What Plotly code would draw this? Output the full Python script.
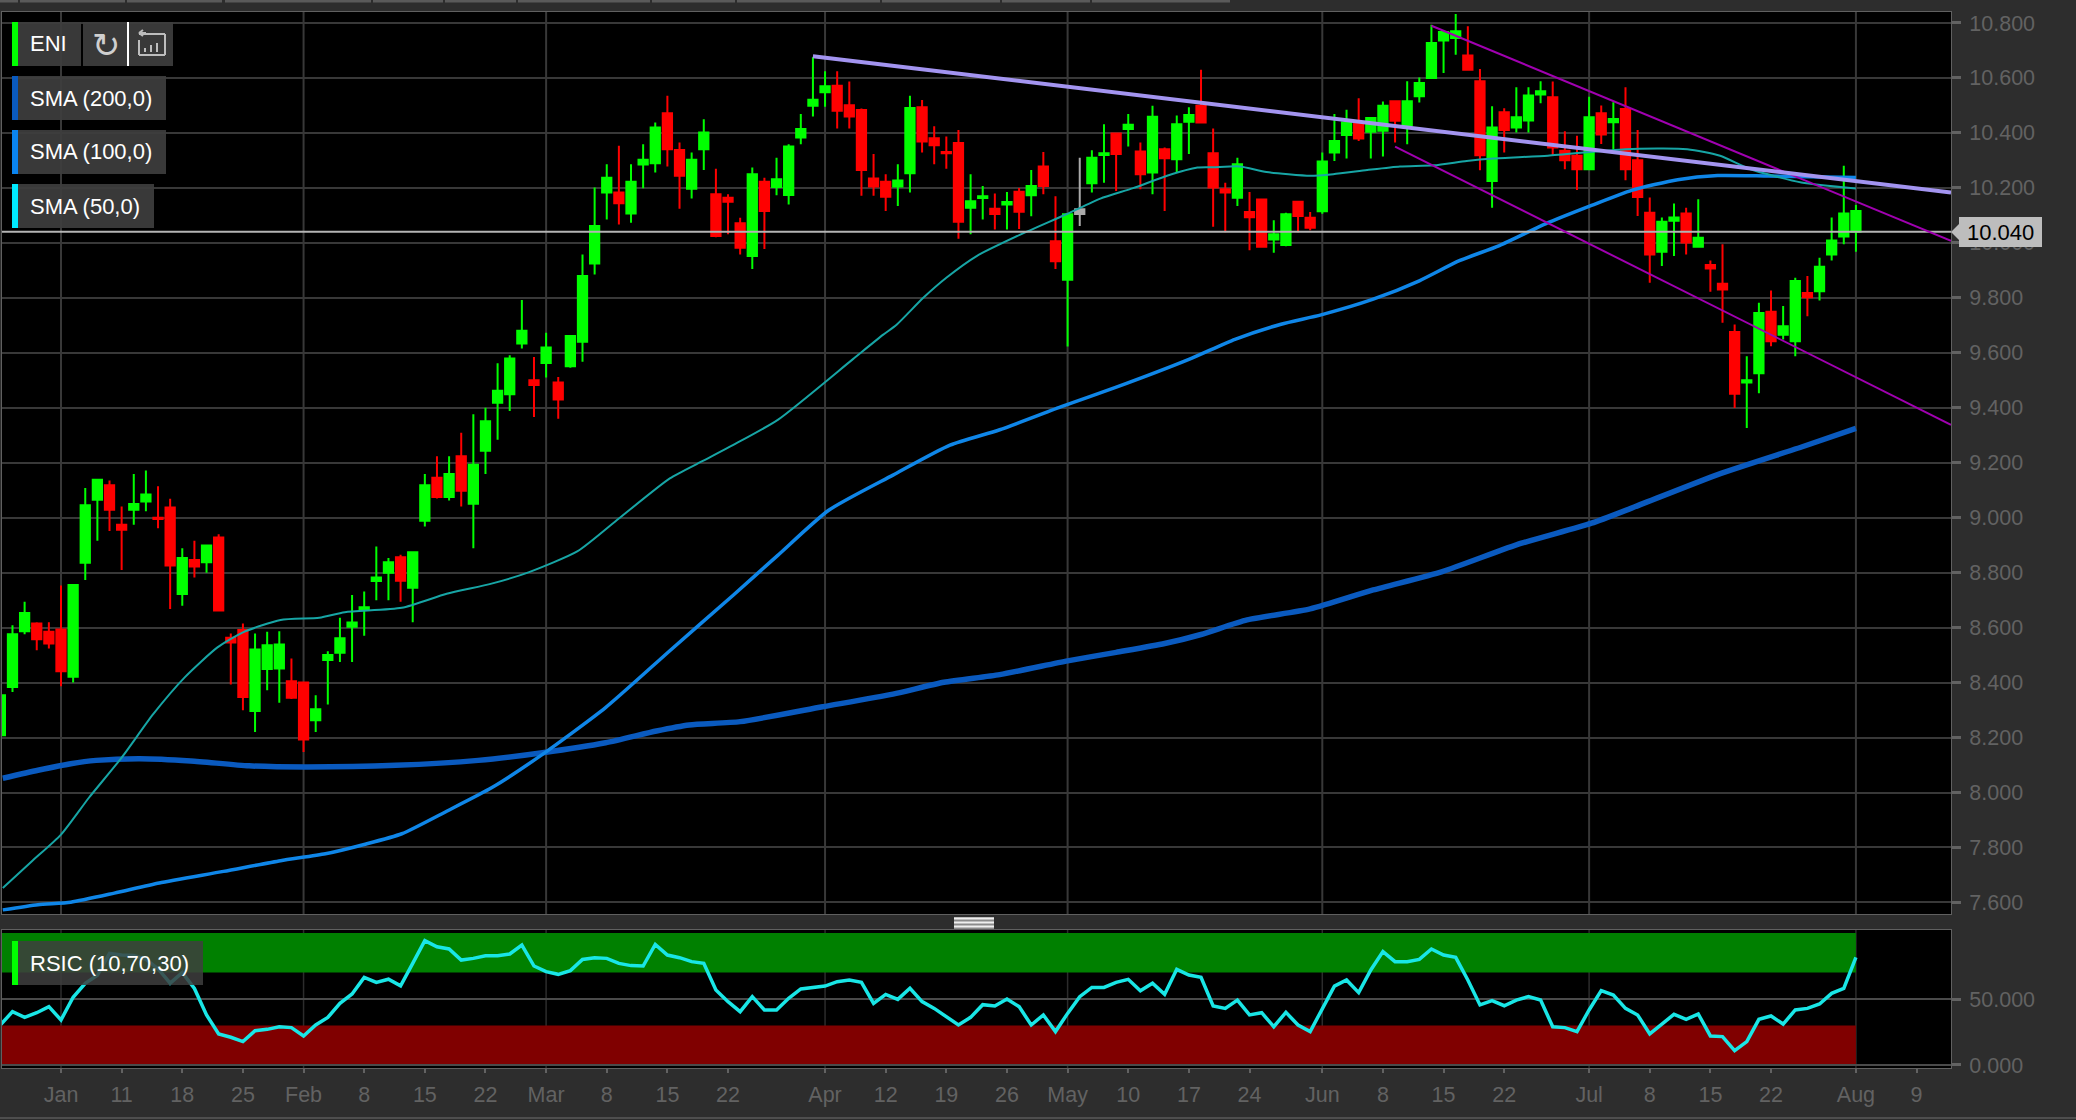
import plotly.graph_objects as go

# ---------- DATA ----------
opens = [8.208,8.384,8.587,8.615,8.585,8.593,8.421,8.836,9.065,9.118,8.974,9.029,9.059,9.0,9.037,8.722,8.846,8.838,8.928,8.563,
8.591,8.297,8.449,8.451,8.405,8.40,8.263,8.482,8.509,8.603,8.666,8.77,8.80,8.856,8.745,8.989,9.145,9.075,9.224,9.051,
9.244,9.418,9.449,9.634,9.5,9.563,9.492,9.551,9.64,9.925,10.183,10.183,10.107,10.285,10.29,10.472,10.338,10.197,10.341,10.177,
10.164,10.071,9.952,10.222,10.203,10.174,10.383,10.499,10.548,10.572,10.501,10.483,10.234,10.222,10.205,10.253,10.493,10.381,10.331,10.363,
10.128,10.163,10.124,10.14,10.186,10.173,10.278,10.006,9.866,10.122,10.217,10.32,10.398,10.414,10.332,10.256,10.341,10.304,10.441,10.499,
10.326,10.195,10.164,10.112,10.158,10.012,9.992,10.15,10.091,10.115,10.329,10.392,10.438,10.404,10.408,10.515,10.428,10.533,10.6,10.736,
10.745,10.682,10.588,10.225,10.475,10.42,10.445,10.54,10.53,10.335,10.317,10.268,10.472,10.439,10.487,10.301,10.11,9.968,10.08,10.107,
9.986,9.919,9.851,9.676,9.492,9.526,9.749,9.666,9.642,9.818,9.824,9.958,10.023,10.04]
highs = [8.36,8.609,8.694,8.62,8.62,8.753,8.757,9.108,9.142,9.135,9.041,9.159,9.172,9.114,9.069,8.889,8.916,8.90,8.94,8.579,
8.615,8.579,8.585,8.587,8.488,8.402,8.354,8.514,8.636,8.719,8.731,8.895,8.853,8.865,8.877,9.159,9.224,9.224,9.309,9.376,
9.40,9.562,9.591,9.792,9.585,9.673,9.512,9.664,9.958,10.201,10.286,10.353,10.286,10.359,10.438,10.535,10.365,10.329,10.45,10.27,
10.177,10.091,10.274,10.237,10.31,10.359,10.469,10.675,10.624,10.624,10.587,10.489,10.323,10.25,10.286,10.535,10.52,10.424,10.387,10.411,
10.25,10.207,10.18,10.185,10.2,10.265,10.331,10.17,10.105,10.31,10.337,10.432,10.40,10.469,10.365,10.499,10.347,10.463,10.493,10.63,
10.416,10.219,10.31,10.185,10.158,10.082,10.11,10.15,10.112,10.329,10.469,10.484,10.526,10.456,10.514,10.515,10.588,10.602,10.794,10.77,
10.833,10.788,10.633,10.497,10.49,10.566,10.566,10.588,10.587,10.406,10.39,10.532,10.5,10.512,10.566,10.411,10.165,10.092,10.143,10.128,
10.159,9.936,9.995,9.703,9.587,9.782,9.827,9.77,9.873,9.879,9.946,10.092,10.281,10.138]
lows = [8.2,8.366,8.576,8.518,8.524,8.387,8.40,8.773,8.916,8.952,8.81,8.974,9.023,8.962,8.668,8.68,8.782,8.80,8.66,8.393,
8.299,8.22,8.372,8.327,8.34,8.147,8.22,8.32,8.475,8.475,8.57,8.70,8.70,8.694,8.62,8.968,9.07,9.063,9.041,8.889,
9.159,9.284,9.388,9.616,9.366,9.51,9.36,9.546,9.567,9.885,10.085,10.067,10.073,10.199,10.256,10.278,10.124,10.161,10.265,10.02,
10.031,9.958,9.905,9.978,10.173,10.14,10.359,10.46,10.495,10.416,10.416,10.171,10.171,10.116,10.134,10.183,10.329,10.286,10.27,10.015,
10.031,10.085,10.049,10.049,10.05,10.097,10.177,9.905,9.623,10.061,10.183,10.219,10.189,10.351,10.195,10.177,10.116,10.258,10.323,10.438,
10.059,10.039,10.134,9.973,9.982,9.964,9.988,10.039,10.046,10.106,10.298,10.307,10.371,10.307,10.314,10.365,10.359,10.511,10.597,10.618,
10.684,10.63,10.264,10.128,10.329,10.402,10.402,10.508,10.317,10.268,10.192,10.265,10.36,10.335,10.228,10.098,9.855,9.916,9.952,9.958,
9.982,9.822,9.709,9.399,9.326,9.453,9.624,9.648,9.587,9.733,9.79,9.936,9.995,9.968]
closes = [8.354,8.576,8.653,8.558,8.542,8.441,8.755,9.045,9.138,9.029,8.956,9.05,9.084,8.995,8.826,8.853,8.822,8.899,8.662,8.546,
8.348,8.52,8.536,8.539,8.345,8.193,8.303,8.5,8.561,8.619,8.674,8.782,8.838,8.771,8.874,9.118,9.075,9.159,9.098,9.193,
9.351,9.462,9.579,9.68,9.483,9.619,9.43,9.661,9.879,10.061,10.237,10.144,10.222,10.302,10.42,10.341,10.244,10.302,10.402,10.025,
10.15,9.982,10.25,10.116,10.231,10.351,10.414,10.521,10.57,10.481,10.46,10.265,10.205,10.168,10.227,10.491,10.369,10.355,10.326,10.077,
10.151,10.17,10.105,10.149,10.113,10.207,10.207,9.933,10.104,10.105,10.31,10.326,10.323,10.43,10.25,10.459,10.308,10.432,10.465,10.438,
10.201,10.183,10.286,10.093,9.986,10.031,10.104,10.098,10.055,10.296,10.371,10.438,10.38,10.454,10.499,10.444,10.515,10.582,10.727,10.767,
10.77,10.63,10.319,10.42,10.411,10.457,10.536,10.552,10.347,10.301,10.268,10.457,10.394,10.451,10.268,10.167,9.958,10.077,10.092,10.001,
10.019,9.907,9.83,9.451,9.5,9.745,9.642,9.697,9.861,9.802,9.913,10.009,10.107,10.116]
flat_bars = [89]

sma200_x = [0.2,3.1,5.8,7.9,11.5,15.7,20.5,25.2,32.6,39.4,44.7,49.9,54.1,56.8,61,67.8,73.6,77.8,82.4,88,92,96,99,102.8,108,113.2,118.9,125,131.2,134.5,141.6,148.7,153]
sma200_y = [8.052,8.081,8.105,8.117,8.123,8.115,8.097,8.093,8.099,8.117,8.145,8.181,8.224,8.246,8.258,8.312,8.358,8.401,8.429,8.479,8.51,8.542,8.575,8.628,8.668,8.737,8.804,8.901,8.98,9.035,9.157,9.26,9.325]
sma100_x = [0.2,3.1,5.8,9.4,13.1,18.4,23.1,26.8,30,33.1,36.8,40.5,44.7,49.9,55.2,60.4,64.1,68.3,73.6,78.3,82.4,87.6,91.9,98,101.8,105.6,108.9,113.2,117,120.3,123.6,127.4,131.2,134.5,138.3,141.6,145.8,153]
sma100_y = [7.573,7.592,7.601,7.634,7.671,7.713,7.752,7.777,7.811,7.85,7.932,8.017,8.139,8.309,8.516,8.717,8.863,9.027,9.155,9.264,9.32,9.406,9.473,9.576,9.649,9.704,9.738,9.795,9.862,9.935,9.99,10.069,10.136,10.191,10.23,10.245,10.243,10.238]
sma50_x = [0.2,2.6,5,7.3,10,12.6,15.2,17.9,20,23.1,26.3,28.4,33.1,36.8,40.5,43.6,47.6,51,55.2,57.8,60.4,64.1,70.3,72.8,73.9,76.1,78,80.5,84.1,87.9,90.7,93.4,96.2,98.7,100,102.2,104.4,108,109.9,112.7,115.4,118.2,120.9,123.1,127.6,134,139.1,141.8,144.3,148.5,153]
sma50_y = [7.653,7.75,7.847,7.981,8.127,8.285,8.419,8.528,8.583,8.628,8.636,8.656,8.672,8.723,8.76,8.802,8.878,8.997,9.143,9.204,9.264,9.356,9.577,9.666,9.702,9.8,9.873,9.952,10.03,10.104,10.161,10.199,10.244,10.274,10.275,10.278,10.258,10.244,10.25,10.265,10.278,10.282,10.298,10.307,10.317,10.341,10.341,10.317,10.268,10.22,10.198]

trend_x = [67, 160.84]
trend_y = [10.679, 10.183]
channel_upper_x = [118, 160.84]
channel_upper_y = [10.79, 10.007]
channel_lower_x = [115, 160.84]
channel_lower_y = [10.35, 9.338]
last_price = 10.04

rsi = [30.3,40.4,36.1,39.6,44.2,34.1,51.3,61.9,68,84.6,83.3,83,80,73,62,70,58,37.9,23.5,21,
17.7,26,27,29,28.3,22,30.3,36,46.7,53.8,66.4,62.6,65,60,77,94.2,89.6,87.9,79.5,80.8,
82.8,82.8,84.1,90.9,75,70.7,68.7,71.5,80,81.3,80.8,77,75.3,75,91.4,83.3,81.3,78.3,77,56.8,
48,40.4,51.8,41.7,41.7,50.5,57.6,58.6,59.8,63.1,64.4,62.6,46.7,53.5,49.7,58.1,48,42.9,36.6,30.3,
36.1,45.7,44.7,50,44.2,30.3,37.9,25.3,39.1,51.8,58.8,58.8,62.6,64.9,56.3,61.9,53.5,72.5,68.2,66.4,
44.7,42.9,49.2,37.9,39.6,29,39.9,30.3,25.3,42.9,59.8,64.4,54.8,72,85.9,78.3,78.3,80,87.9,83.3,
81.6,64.4,45.5,48.7,44.9,49.2,51.8,49.2,29,28.3,25.3,41.7,56.3,53,42.9,37.9,23.5,31,38.4,34.6,
38.6,22,21.5,10.9,17.7,34.6,37.1,31,41.7,42.9,46.2,54.3,58.1,81.6]

x_tick_pos = [5,10,15,20,25,30,35,40,45,50,55,60,68,73,78,83,88,93,98,103,109,114,119,124,131,136,141,146,153,158]
x_tick_labels = ["Jan","11","18","25","Feb","8","15","22","Mar","8","15","22","Apr","12","19","26","May","10","17","24","Jun","8","15","22","Jul","8","15","22","Aug","9"]
month_pos = [5,25,45,68,88,109,131,153]
price_ticks = [7.6,7.8,8.0,8.2,8.4,8.6,8.8,9.0,9.2,9.4,9.6,9.8,10.0,10.2,10.4,10.6,10.8]
rsi_ticks = [0,50]
rsi_upper, rsi_lower = 70, 30

legend_items = [("SMA (200,0)", "#0a5abf", 76, 120, 166), ("SMA (100,0)", "#0a84f0", 130, 174, 166), ("SMA (50,0)", "#00eaff", 184, 228, 154)]
tab_edges = [(0,18),(20,125),(127,222),(225,371),(373,443),(445,516),(518,650),(652,735),(737,880),(882,1000),(1002,1090),(1092,1230)]

# ---------- STYLE / LAYOUT HELPERS ----------
W, H = 2076, 1120
PANEL_L, PANEL_R = 2, 1951
MAIN_T, MAIN_B = 12, 914
RSI_T, RSI_B = 930, 1068
BG = "#2d2d2d"
GRID = "#383838"
TXT = "#626262"
FONT = "Liberation Sans, Arial, sans-serif"
def X(p): return p / W
def Y(p): return 1 - p / H

fig = go.Figure()
bars = [i for i in range(len(opens)) if i not in flat_bars]
pick = lambda a, idx: [a[i] for i in idx]
fig.add_trace(go.Candlestick(x=bars, open=pick(opens, bars), high=pick(highs, bars), low=pick(lows, bars), close=pick(closes, bars),
    whiskerwidth=0,
    increasing=dict(line=dict(color="#00ff00", width=2), fillcolor="#00ff00"),
    decreasing=dict(line=dict(color="#ff0000", width=2), fillcolor="#ff0000"),
    hoverinfo="skip", showlegend=False, xaxis="x", yaxis="y"))
fig.add_trace(go.Candlestick(x=flat_bars, open=pick(opens, flat_bars), high=pick(highs, flat_bars), low=pick(lows, flat_bars), close=pick(closes, flat_bars),
    whiskerwidth=0,
    increasing=dict(line=dict(color="#aaaaaa", width=2), fillcolor="#aaaaaa"),
    decreasing=dict(line=dict(color="#aaaaaa", width=2), fillcolor="#aaaaaa"),
    hoverinfo="skip", showlegend=False, xaxis="x", yaxis="y"))
def line(x, y, color, width, ax="", **kw):
    fig.add_trace(go.Scatter(x=x, y=y, mode="lines", line=dict(color=color, width=width, **kw),
                             hoverinfo="skip", showlegend=False, xaxis="x"+ax, yaxis="y"+ax))
line(sma200_x, sma200_y, "#0a5abf", 5.5, shape="spline", smoothing=0.6)
line(sma100_x, sma100_y, "#0f86e8", 3.5, shape="spline", smoothing=0.6)
line(sma50_x, sma50_y, "#17a5a5", 2, shape="spline", smoothing=0.6)
line([0.135, 160.84], [last_price, last_price], "#b4b4b4", 2)
line(channel_upper_x, channel_upper_y, "#a000b0", 2)
line(channel_lower_x, channel_lower_y, "#a000b0", 2)
line(trend_x, trend_y, "#a394f0", 4)
line(list(range(len(rsi))), rsi, "#19e6e6", 3.5, ax="2")

shapes = []
# RSI bands: from left edge to the last bar
shapes.append(dict(type="rect", xref="x2", yref="y2", x0=0.135, x1=153, y0=rsi_upper, y1=100, fillcolor="#008000", line_width=0, layer="below"))
shapes.append(dict(type="rect", xref="x2", yref="y2", x0=0.135, x1=153, y0=0, y1=rsi_lower, fillcolor="#800000", line_width=0, layer="below"))
for m in month_pos:
    shapes.append(dict(type="line", xref="x", yref="y domain", x0=m, x1=m, y0=0, y1=1, line=dict(color=GRID, width=2), layer="below"))
    shapes.append(dict(type="line", xref="x2", yref="y2 domain", x0=m, x1=m, y0=0, y1=1, line=dict(color="rgba(200,200,200,0.22)", width=1.5), layer="below"))

def rect(x0, y0, x1, y1, fill, alpha_line=0):
    shapes.append(dict(type="rect", xref="paper", yref="paper", x0=X(x0), x1=X(x1), y0=Y(y0), y1=Y(y1), fillcolor=fill, line_width=alpha_line, layer="above"))
def pline(x0, y0, x1, y1, color, width=2):
    shapes.append(dict(type="line", xref="paper", yref="paper", x0=X(x0), x1=X(x1), y0=Y(y0), y1=Y(y1), line=dict(color=color, width=width), layer="above"))

# top tab strip and bottom rule
for a, b in tab_edges:
    rect(a, 0, b, 2.5, "#5a5a5a")
pline(0, 1118, W, 1118, "#5a5a5a", 1.5)
# ticker badge
BADGE = "rgba(62,62,62,0.92)"
rect(12, 22, 81, 66, BADGE); rect(12, 22, 18, 66, "#00ff00")
rect(83, 22, 127, 66, BADGE); rect(127, 22, 129, 66, "#ffffff"); rect(129, 22, 173, 66, BADGE)
# history icon
pline(139, 34, 165, 34, "#bdbdbd", 2); pline(165, 34, 165, 55, "#bdbdbd", 2); pline(165, 55, 139, 55, "#bdbdbd", 2); pline(139, 55, 139, 40, "#bdbdbd", 2)
pline(139, 33, 146, 33, "#bdbdbd", 2); pline(143, 30, 139, 33, "#bdbdbd", 2); pline(143, 36, 139, 33, "#bdbdbd", 2)
for bx, by in [(145, 48), (151, 45), (157, 43)]:
    pline(bx, by, bx, 52, "#bdbdbd", 2)
annotations = []
def txt(x, y, s, color="#ffffff", size=22, family=FONT, anchor="left"):
    annotations.append(dict(xref="paper", yref="paper", x=X(x), y=Y(y), text=s, showarrow=False, xanchor=anchor, yanchor="middle",
                            font=dict(family=family, size=size, color=color), align="left"))
txt(28, 44, "ENI")
txt(106, 45, "↻", color="#cfcfcf", size=34, family="DejaVu Sans", anchor="center")
for label, col, t, b, r in legend_items:
    rect(12, t, r, b, BADGE); rect(12, t, 18, b, col); txt(28, (t + b) / 2, label)
# RSI badge
rect(12, 941, 203, 985, "rgba(62,62,62,0.85)"); rect(12, 941, 18, 985, "#00ff00"); txt(28, 963, "RSIC (10,70,30)")
# panel splitter handle
rect(954, 917, 994, 929, "#8a8a8a")
for sy in (918.5, 922.5, 926.5):
    pline(954, sy, 994, sy, "#eeeeee", 2)
# last-price tag
rect(1959, 217, 2042, 247, "#bdbdbd")
shapes.append(dict(type="path", xref="paper", yref="paper", layer="above", fillcolor="#bdbdbd", line_width=0,
                   path=f"M {X(1959)} {Y(224)} L {X(1951)} {Y(232)} L {X(1959)} {Y(240)} Z"))
txt(1965, 232, f"{last_price:.3f}", color="#000000", size=22)

axis_common = dict(showline=True, mirror=True, linecolor="#606060", linewidth=1, zeroline=False, tickcolor=TXT,
                   tickfont=dict(family=FONT, size=21.5, color=TXT), fixedrange=True)
fig.update_layout(
    width=W, height=H, autosize=False, margin=dict(l=0, r=0, t=0, b=0, autoexpand=False),
    paper_bgcolor=BG, plot_bgcolor="#000000",
    showlegend=False, hovermode=False, boxmode="overlay", boxgap=0.15, boxgroupgap=0.1,
    shapes=shapes, annotations=annotations,
    xaxis=dict(domain=[X(PANEL_L), X(PANEL_R)], range=[0.135, 160.84], anchor="y", showgrid=False, showticklabels=False, ticks="",
               rangeslider=dict(visible=False), **axis_common),
    yaxis=dict(domain=[Y(MAIN_B), Y(MAIN_T)], range=[7.558, 10.84], side="right", anchor="x", showgrid=True, gridcolor=GRID, gridwidth=2,
               tickmode="array", tickvals=price_ticks, ticktext=[f"{v:.3f}" for v in price_ticks],
               ticks="outside", ticklen=9, tickwidth=3, ticklabelstandoff=4, **axis_common),
    xaxis2=dict(domain=[X(PANEL_L), X(PANEL_R)], range=[0.135, 160.84], anchor="y2", showgrid=False,
                tickmode="array", tickvals=x_tick_pos, ticktext=x_tick_labels,
                ticks="outside", ticklen=4, tickwidth=2, ticklabelstandoff=3, **axis_common),
    yaxis2=dict(domain=[Y(RSI_B), Y(RSI_T)], range=[-2.3, 102.3], side="right", anchor="x2", showgrid=True, gridcolor="#4a4a4a", gridwidth=2,
                tickmode="array", tickvals=rsi_ticks, ticktext=[f"{v:.3f}" for v in rsi_ticks],
                ticks="outside", ticklen=9, tickwidth=3, ticklabelstandoff=4, **axis_common),
)

fig.write_html("out.html", config=dict(displayModeBar=False, staticPlot=True),
               post_script="document.body.style.margin='0';document.body.style.background='#2d2d2d';document.body.style.overflow='hidden';")
